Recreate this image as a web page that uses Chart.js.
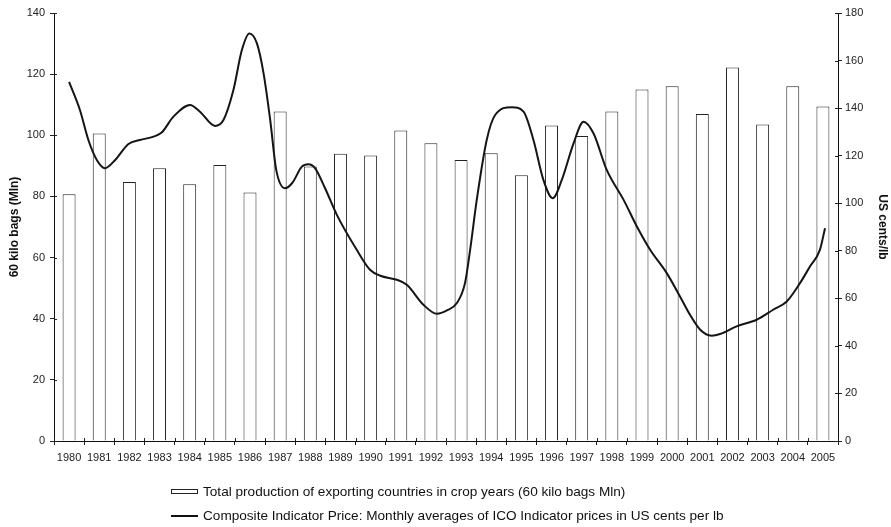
<!DOCTYPE html>
<html>
<head>
<meta charset="utf-8">
<script src="https://cdn.jsdelivr.net/npm/chart.js@4.4.1/dist/chart.umd.min.js"></script>
<style>
html,body{margin:0;padding:0;background:#fff;}
#wrap{position:relative;width:891px;height:527px;overflow:hidden;}
#c{position:absolute;left:0;top:0;}
.lg{position:absolute;left:203px;font:13.6px "Liberation Sans",Arial,sans-serif;color:#111;white-space:nowrap;line-height:16px;}
.ibox{position:absolute;left:171px;width:25px;height:3px;border:1px solid #222;background:#fff;}
.iline{position:absolute;left:171px;width:27px;height:2px;background:#111;}
</style>
</head>
<body>
<div id="wrap">
<canvas id="c" width="891" height="527"></canvas>
<div class="ibox" style="top:489px"></div>
<div class="lg" id="lg1" style="top:484px"></div>
<div class="iline" style="top:515px"></div>
<div class="lg" id="lg2" style="top:508px"></div>
</div>
<script>
// ---- data ----
const years = ['1980','1981','1982','1983','1984','1985','1986','1987','1988','1989','1990','1991','1992','1993','1994','1995','1996','1997','1998','1999','2000','2001','2002','2003','2004','2005'];
const production = [80.7,100.6,84.7,89.2,84.0,90.3,81.3,107.8,89.8,94.0,93.4,101.6,97.4,91.9,94.1,86.9,103.2,99.8,107.8,115.0,116.0,107.0,122.2,103.5,116.0,109.4];
// price curve: time (decimal year) and US cents/lb
const priceTime = [1980.00,1980.36,1980.64,1980.92,1981.19,1981.53,1981.97,1982.35,1982.80,1983.07,1983.46,1984.01,1984.34,1984.84,1985.12,1985.45,1985.73,1985.98,1986.23,1986.45,1986.67,1986.87,1987.16,1987.40,1987.72,1987.94,1988.16,1988.49,1988.88,1989.54,1989.98,1990.32,1990.87,1991.20,1991.75,1992.20,1992.53,1992.86,1993.13,1993.30,1993.52,1993.85,1994.13,1994.68,1995.07,1995.40,1995.73,1996.04,1996.34,1996.73,1997.06,1997.39,1997.83,1998.39,1998.83,1999.27,1999.82,2000.26,2000.59,2000.93,2001.31,2001.59,2002.14,2002.80,2003.35,2003.80,2004.24,2004.57,2004.90,2005.07];
const priceValue = [151.0,139.2,126.6,118.2,114.7,118.2,124.9,126.6,128.0,129.7,136.4,141.3,138.5,132.5,135.0,147.6,164.4,171.4,167.2,154.6,135.0,114.0,106.3,108.5,115.4,116.4,114.7,106.3,95.1,80.4,72.0,69.5,67.8,65.7,57.3,53.5,54.9,58.0,66.4,80.4,101.4,126.6,137.1,140.4,138.5,126.6,109.8,102.1,109.8,125.2,134.3,129.4,114.0,101.4,90.2,80.4,70.6,60.8,53.1,46.8,44.3,45.0,48.2,51.0,55.2,58.7,66.4,73.4,80.4,89.5];
const leftTicks = [0,20,40,60,80,100,120,140];
const rightTicks = [0,20,40,60,80,100,120,140,160,180];
const labelBars = 'Total production of exporting countries in crop years (60 kilo bags Mln)';
const labelLine = 'Composite Indicator Price: Monthly averages of ICO Indicator prices in US cents per lb';
const titleLeft = '60 kilo bags (Mln)';
const titleRight = 'US cents/lb';

document.getElementById('lg1').textContent = labelBars;
document.getElementById('lg2').textContent = labelLine;

const FONT = '"Liberation Sans", Arial, sans-serif';
const tickFont = {family: FONT, size: 11};
const titleFont = {family: FONT, size: 12, weight: 'bold'};

const innerTicks = {
  id: 'innerTicks',
  afterDraw(chart) {
    const ctx = chart.ctx;
    const {y, y1, x2} = chart.scales;
    const area = chart.chartArea;
    ctx.save();
    ctx.strokeStyle = '#222';
    ctx.lineWidth = 1;
    ctx.beginPath();
    leftTicks.forEach(v => { const p = Math.round(y.getPixelForValue(v)) + 0.5; ctx.moveTo(area.left, p); ctx.lineTo(area.left + 3, p); });
    rightTicks.forEach(v => { const p = Math.round(y1.getPixelForValue(v)) + 0.5; ctx.moveTo(area.right - 3, p); ctx.lineTo(area.right, p); });
    for (let i = 0; i <= years.length; i++) {
      const p = Math.round(x2.getPixelForValue(Number(years[0]) - 0.5 + i)) + 0.5;
      ctx.moveTo(p, area.bottom); ctx.lineTo(p, area.bottom - 3);
    }
    ctx.stroke();
    ctx.restore();
  }
};

new Chart(document.getElementById('c'), {
  data: {
    labels: years,
    datasets: [
      {
        type: 'line',
        label: labelLine,
        data: priceTime.map((t, i) => ({x: t, y: priceValue[i]})),
        xAxisID: 'x2',
        yAxisID: 'y1',
        borderColor: '#151515',
        borderWidth: 2,
        pointRadius: 0,
        fill: false,
        cubicInterpolationMode: 'monotone',
        order: 0
      },
      {
        type: 'bar',
        label: labelBars,
        data: production,
        xAxisID: 'x',
        yAxisID: 'y',
        backgroundColor: '#ffffff',
        borderColor: '#222',
        borderWidth: 1,
        grouped: false,
        categoryPercentage: 1,
        barPercentage: 0.43,
        order: 1
      }
    ]
  },
  options: {
    responsive: false,
    animation: false,
    devicePixelRatio: 1,
    layout: {padding: {top: 13, left: 0, right: 0, bottom: 0}},
    plugins: {legend: {display: false}, tooltip: {enabled: false}},
    scales: {
      x: {
        type: 'category',
        offset: true,
        grid: {display: true, drawOnChartArea: false, drawTicks: true, tickLength: 4, color: '#222', offset: true},
        border: {display: true, color: '#111', width: 1},
        ticks: {font: tickFont, color: '#222', padding: 6, maxRotation: 0, autoSkip: false},
        afterFit(s) { s.height = 86; }
      },
      x2: {
        type: 'linear',
        display: false,
        min: 1979.5,
        max: 2005.5
      },
      y: {
        position: 'left',
        min: 0, max: 140,
        afterBuildTicks(s) { s.ticks = leftTicks.map(v => ({value: v})); },
        grid: {display: true, drawOnChartArea: false, drawTicks: true, tickLength: 4, color: '#222'},
        border: {display: true, color: '#111', width: 1},
        ticks: {font: tickFont, color: '#222', padding: 5},
        title: {display: true, text: titleLeft, font: titleFont, color: '#111', padding: {top: 7, bottom: 0}},
        afterFit(s) { s.width = 54; }
      },
      y1: {
        position: 'right',
        min: 0, max: 180,
        afterBuildTicks(s) { s.ticks = rightTicks.map(v => ({value: v})); },
        grid: {display: true, drawOnChartArea: false, drawTicks: true, tickLength: 4, color: '#222'},
        border: {display: true, color: '#111', width: 1},
        ticks: {font: tickFont, color: '#222', padding: 3},
        title: {display: true, text: titleRight, font: titleFont, color: '#111', padding: {top: 1, bottom: 0}},
        afterFit(s) { s.width = 53; }
      }
    }
  },
  plugins: [innerTicks]
});
</script>
</body>
</html>
